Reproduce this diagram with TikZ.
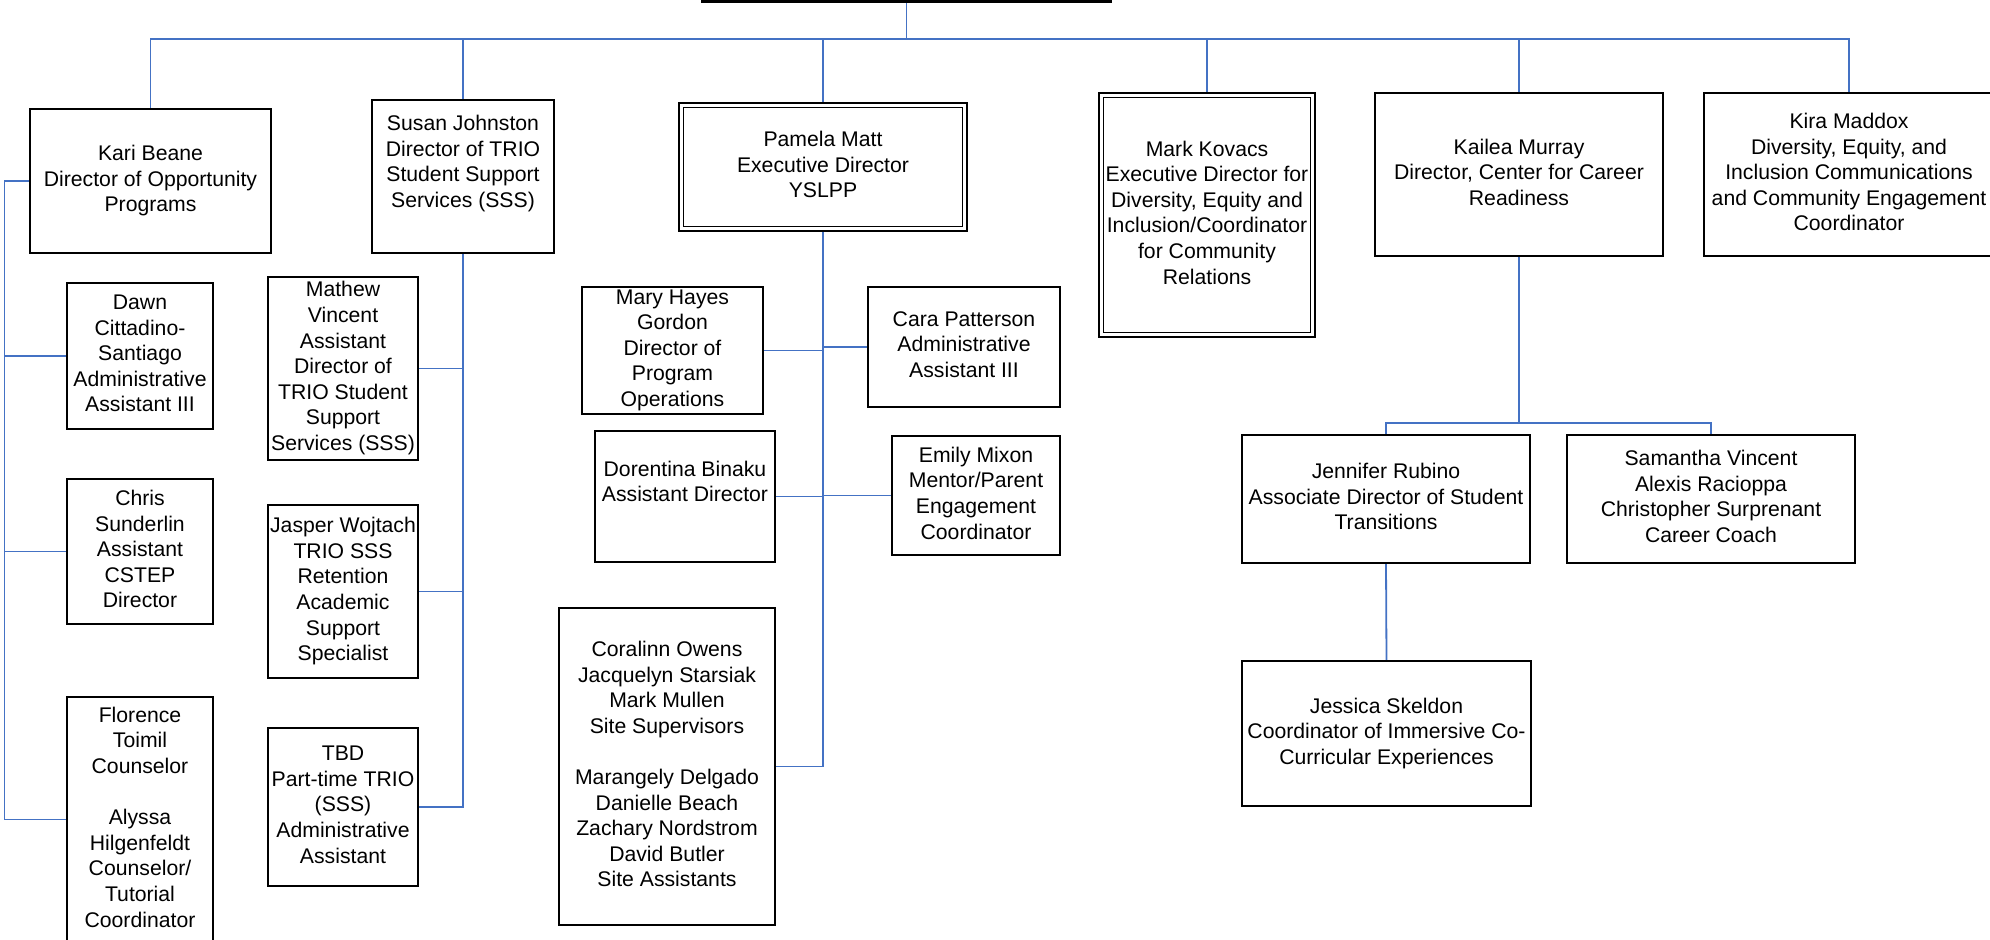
\documentclass[tikz,border=0pt]{standalone}
\usepackage{fontspec}
\setmainfont{Liberation Sans}
\usetikzlibrary{calc}
\pgfdeclarelayer{background}
\pgfsetlayers{background,main}
\definecolor{linkblue}{HTML}{4472C4}
\newcommand\boxstrut{\rule[-5pt]{0pt}{25.6pt}}
\tikzset{
  box/.style={draw=black, line width=1.8pt, fill=white, inner sep=0pt, outer sep=0pt,
    align=center, font=\fontsize{21.2}{25.6}\selectfont,
    execute at begin node=\boxstrut, execute at end node=\boxstrut},
  dbox/.style={box, line width=1.5pt, double=white, double distance=3pt},
  topbox/.style={box, line width=2.5pt},
  link/.style={draw=linkblue, line width=1.8pt},
}
\begin{document}
\begin{tikzpicture}[x=1pt,y=-1pt]
\useasboundingbox (0,0) rectangle (1990,940);
% top row
\node[topbox, minimum width=409pt, minimum height=101.5pt] (top) at (906.5,-49.25) {};
\node[box, minimum width=241pt, minimum height=144pt] (kari) at (150.5,181) {Kari Beane\\Director of Opportunity\\Programs};
\node[box, minimum width=182pt, minimum height=153pt] (susan) at (463,176.5) {Susan Johnston\\Director of TRIO\\Student Support\\Services (SSS)\\\mbox{}};
\node[dbox, minimum width=283.5pt, minimum height=123.5pt] (pamela) at (823,167) {Pamela Matt\\Executive Director\\YSLPP};
\node[dbox, minimum width=211.5pt, minimum height=239.5pt] (mark) at (1207,215) {Mark Kovacs\\Executive Director for\\Diversity, Equity and\\Inclusion/Coordinator\\for Community\\Relations};
\node[box, minimum width=288pt, minimum height=163pt] (kailea) at (1519,174.5) {Kailea Murray\\Director, Center for Career\\Readiness};
\node[box, minimum width=290pt, minimum height=163pt] (kira) at (1849,174.5) {Kira Maddox\\Diversity, Equity, and\\Inclusion Communications\\and Community Engagement\\Coordinator};
% Kari's staff
\node[box, minimum width=146pt, minimum height=146pt] (dawn) at (140,356) {Dawn\\Cittadino-\\Santiago\\Administrative\\Assistant III};
\node[box, minimum width=146pt, minimum height=145pt] (chris) at (140,551.5) {Chris\\Sunderlin\\Assistant\\CSTEP\\Director};
\node[box, minimum width=146pt, minimum height=245pt] (florence) at (140,819.5) {Florence\\Toimil\\Counselor\\\mbox{}\\Alyssa\\Hilgenfeldt\\Counselor/\\Tutorial\\Coordinator};
% Susan's staff
\node[box, minimum width=150pt, minimum height=183pt] (mathew) at (343,368.5) {Mathew\\Vincent\\Assistant\\Director of\\TRIO Student\\Support\\Services (SSS)};
\node[box, minimum width=150pt, minimum height=173pt] (jasper) at (343,591.5) {Jasper Wojtach\\TRIO SSS\\Retention\\Academic\\Support\\Specialist};
\node[box, minimum width=150pt, minimum height=158pt] (tbd) at (343,807) {TBD\\Part-time TRIO\\(SSS)\\Administrative\\Assistant};
% Pamela's staff
\node[box, minimum width=181pt, minimum height=127pt] (mary) at (672.5,350.5) {Mary Hayes\\Gordon\\Director of\\Program\\Operations};
\node[box, minimum width=192pt, minimum height=120pt] (cara) at (964,347) {Cara Patterson\\Administrative\\Assistant III};
\node[box, minimum width=180pt, minimum height=131pt] (dorentina) at (685,496.5) {Dorentina Binaku\\Assistant Director\\\mbox{}};
\node[box, minimum width=168pt, minimum height=119pt] (emily) at (976,495.5) {Emily Mixon\\Mentor/Parent\\Engagement\\Coordinator};
\node[box, minimum width=216pt, minimum height=317pt] (coralinn) at (667,766.5) {Coralinn Owens\\Jacquelyn Starsiak\\Mark Mullen\\Site Supervisors\\\mbox{}\\Marangely Delgado\\Danielle Beach\\Zachary Nordstrom\\David Butler\\Site Assistants};
% Kailea's staff
\node[box, minimum width=288pt, minimum height=128pt] (jennifer) at (1386,499) {Jennifer Rubino\\Associate Director of Student\\Transitions};
\node[box, minimum width=288pt, minimum height=128pt] (samantha) at (1711,499) {Samantha Vincent\\Alexis Racioppa\\Christopher Surprenant\\Career Coach};
\node[box, minimum width=289pt, minimum height=145pt] (jessica) at (1386.5,733.5) {Jessica Skeldon\\Coordinator of Immersive Co-\\Curricular Experiences};
% helper coordinates
\coordinate (bus) at (0,39);
\coordinate (lspine) at (4.5,0);
\coordinate (kbus) at (0,423);
\begin{pgfonlayer}{background}
\draw[link] (top.south) -- (top.south |- bus);
\draw[link] (kari.north) -- (kari.north |- bus) -- (kira.north |- bus) -- (kira.north);
\foreach \n in {susan,pamela,mark,kailea} \draw[link] (\n.north) -- (\n.north |- bus);
\draw[link] (kari.west) -| (lspine |- florence.west) -- (florence.west);
\foreach \n in {dawn,chris} \draw[link] (\n.west) -- (\n.west -| lspine);
\draw[link] (susan.south) |- (tbd.east);
\foreach \n in {mathew,jasper} \draw[link] (\n.east) -- (\n.east -| susan.south);
\draw[link] (pamela.south) |- (coralinn.east);
\foreach \n in {mary,dorentina} \draw[link] (\n.east) -- (\n.east -| pamela.south);
\foreach \n in {cara,emily} \draw[link] (\n.west) -- (\n.west -| pamela.south);
\draw[link] (kailea.south) -- (kailea.south |- kbus);
\draw[link] (jennifer.north) |- (kbus -| samantha.north) -- (samantha.north);
\draw[link] (jennifer.south) -- (jessica.north);
\end{pgfonlayer}
\end{tikzpicture}
\end{document}
